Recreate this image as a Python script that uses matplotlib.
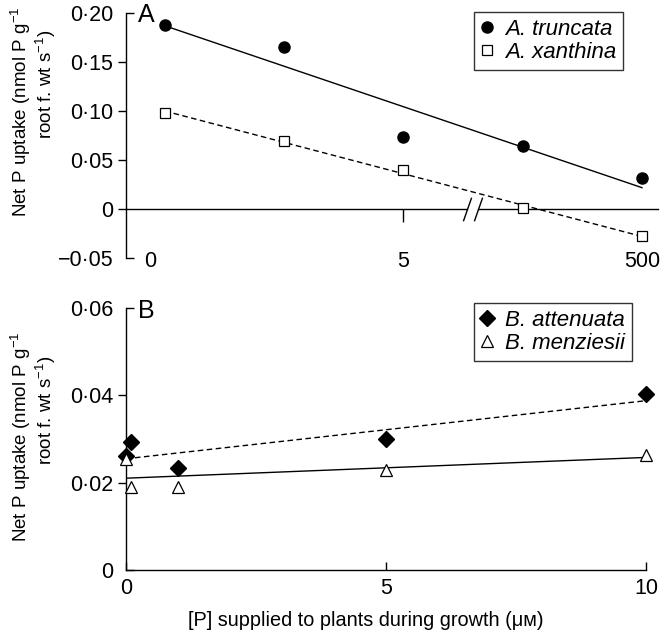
import numpy as np
import matplotlib.pyplot as plt
from matplotlib.ticker import FixedLocator, FuncFormatter

plt.rcParams['font.family'] = ['Liberation Sans', 'DejaVu Sans']
plt.rcParams['mathtext.default'] = 'regular'

# Panel A: broken x axis, points drawn at equal spacing
pos_A = [0, 1, 2, 3, 4]
xtick_pos_A = [-0.12, 2, 4]
xtick_lab_A = ['0', '5', '500']
truncata = [0.188, 0.165, 0.073, 0.064, 0.032]
xanthina = [0.098, 0.069, 0.040, 0.001, -0.028]

# Panel B
p_B = [0, 0.1, 1, 5, 10]
attenuata = [0.0261, 0.0293, 0.0233, 0.0299, 0.0402]
menziesii = [0.0254, 0.0191, 0.0191, 0.0229, 0.0263]

TICK_FS = 15.5


def dot_fmt(v, pos=None):
    if abs(v) < 1e-9:
        return '0'
    s = f'{abs(v):.2f}'.replace('.', '\u00b7')
    return ('\u2212' + s) if v < 0 else s


def fit(x, y):
    b, a = np.polyfit(x, y, 1)
    xs = np.array([min(x), max(x)])
    return xs, a + b * xs


fig = plt.figure(figsize=(6.61, 6.33), dpi=100)
axA = fig.add_axes([0.1906, 0.5924, 0.8048, 0.3870])
axB = fig.add_axes([0.1906, 0.0995, 0.8048, 0.4139])

lw = 1.0
dash = (0, (4, 2.5))

# ---------- Panel A ----------
axA.plot(pos_A, truncata, 'o', color='black', ms=8, clip_on=False, zorder=3,
         label='A. truncata')
axA.plot(pos_A, xanthina, 's', mfc='white', mec='black', mew=0.9, ms=7.5,
         clip_on=False, zorder=3, label='A. xanthina')
xs, ys = fit(pos_A, truncata)
axA.plot(xs, ys, color='black', lw=lw)
xs, ys = fit(pos_A, xanthina)
axA.plot(xs, ys, color='black', lw=lw, ls=dash)

axA.set_xlim(-0.326, 4.134)
axA.set_ylim(-0.05, 0.20)

# zero line with axis break
brk = 2.58
gap = 0.045
axA.plot([axA.get_xlim()[0], brk - gap], [0, 0], color='black', lw=lw, clip_on=False)
axA.plot([brk + gap, axA.get_xlim()[1]], [0, 0], color='black', lw=lw, clip_on=False)
axA.plot([brk - gap, brk + gap], [0, 0], ls='none', marker=[(-0.35, -1), (0.35, 1)],
         ms=17, mec='black', mew=1, clip_on=False)
axA.plot([2], [0], ls='none', marker=3, ms=9, mec='black', mew=1, clip_on=False)

for s in ['top', 'right', 'bottom']:
    axA.spines[s].set_visible(False)
axA.spines['left'].set_linewidth(lw)

axA.set_xticks(xtick_pos_A)
axA.set_xticklabels(xtick_lab_A)
axA.tick_params(axis='x', length=0, pad=-5, labelsize=TICK_FS)

axA.yaxis.set_major_locator(FixedLocator([0, 0.05, 0.10, 0.15]))
axA.yaxis.set_minor_locator(FixedLocator([-0.05, 0.20]))
axA.yaxis.set_major_formatter(FuncFormatter(dot_fmt))
axA.yaxis.set_minor_formatter(FuncFormatter(dot_fmt))
axA.tick_params(axis='y', which='major', direction='out', length=6, width=lw,
                labelsize=TICK_FS, pad=3)
axA.tick_params(axis='y', which='minor', direction='in', length=6, width=lw,
                labelsize=TICK_FS, pad=9)

legA = axA.legend(loc='upper left', bbox_to_anchor=(474 / 661, 1 - 12 / 633),
                  bbox_transform=fig.transFigure, frameon=True, fancybox=False,
                  edgecolor='black', prop={'style': 'italic', 'size': 16},
                  handlelength=0.6, handletextpad=0.5, borderpad=0.3,
                  labelspacing=0.1, borderaxespad=0)
legA.get_frame().set_linewidth(1.0)

fig.text(146 / 661, 1 - 15 / 633, 'A', fontsize=18, ha='center', va='center')

# ---------- Panel B ----------
axB.plot(p_B, attenuata, 'D', color='black', ms=8, clip_on=False, zorder=3,
         label='B. attenuata')
axB.plot(p_B, menziesii, '^', mfc='white', mec='black', mew=0.9, ms=8.5,
         clip_on=False, zorder=3, label='B. menziesii')
xs, ys = fit(p_B, attenuata)
axB.plot(xs, ys, color='black', lw=lw, ls=dash)
xs, ys = fit(p_B, menziesii)
axB.plot(xs, ys, color='black', lw=lw)

axB.set_xlim(0, 10.23)
axB.set_ylim(0, 0.06)
for s in ['top', 'right']:
    axB.spines[s].set_visible(False)
axB.spines['bottom'].set_bounds(0, 10)
axB.spines['left'].set_linewidth(lw)
axB.spines['bottom'].set_linewidth(lw)

axB.set_xticks([0, 5, 10])
axB.set_xticklabels(['0', '5', '10'])
axB.tick_params(axis='x', direction='in', length=6, width=lw, labelsize=TICK_FS, pad=6)

axB.yaxis.set_major_locator(FixedLocator([0.02, 0.04]))
axB.yaxis.set_minor_locator(FixedLocator([0, 0.06]))
axB.yaxis.set_major_formatter(FuncFormatter(dot_fmt))
axB.yaxis.set_minor_formatter(FuncFormatter(dot_fmt))
axB.tick_params(axis='y', which='major', direction='out', length=6, width=lw,
                labelsize=TICK_FS, pad=3)
axB.tick_params(axis='y', which='minor', direction='in', length=6, width=lw,
                labelsize=TICK_FS, pad=9)

legB = axB.legend(loc='upper left', bbox_to_anchor=(474 / 661, 1 - 303 / 633),
                  bbox_transform=fig.transFigure, frameon=True, fancybox=False,
                  edgecolor='black', prop={'style': 'italic', 'size': 16},
                  handlelength=0.6, handletextpad=0.5, borderpad=0.3,
                  labelspacing=0.1, borderaxespad=0)
legB.get_frame().set_linewidth(1.0)

fig.text(146 / 661, 1 - 311 / 633, 'B', fontsize=18, ha='center', va='center')

# ---------- axis titles ----------
for yc1, yc2 in [(112, 84), (437, 410)]:
    fig.text(21 / 661, 1 - yc1 / 633, 'Net P uptake (nmol P g$^{\u22121}$',
             rotation=90, fontsize=13.5, ha='center', va='center')
    fig.text(46 / 661, 1 - yc2 / 633, 'root f. wt s$^{\u22121}$)',
             rotation=90, fontsize=13.5, ha='center', va='center')

fig.text(366 / 661, 1 - 621 / 633, '[P] supplied to plants during growth (\u03bc\u1d0d)',
         fontsize=14.3, ha='center', va='center')

fig.savefig('out.png', dpi=100)
plt.close(fig)
